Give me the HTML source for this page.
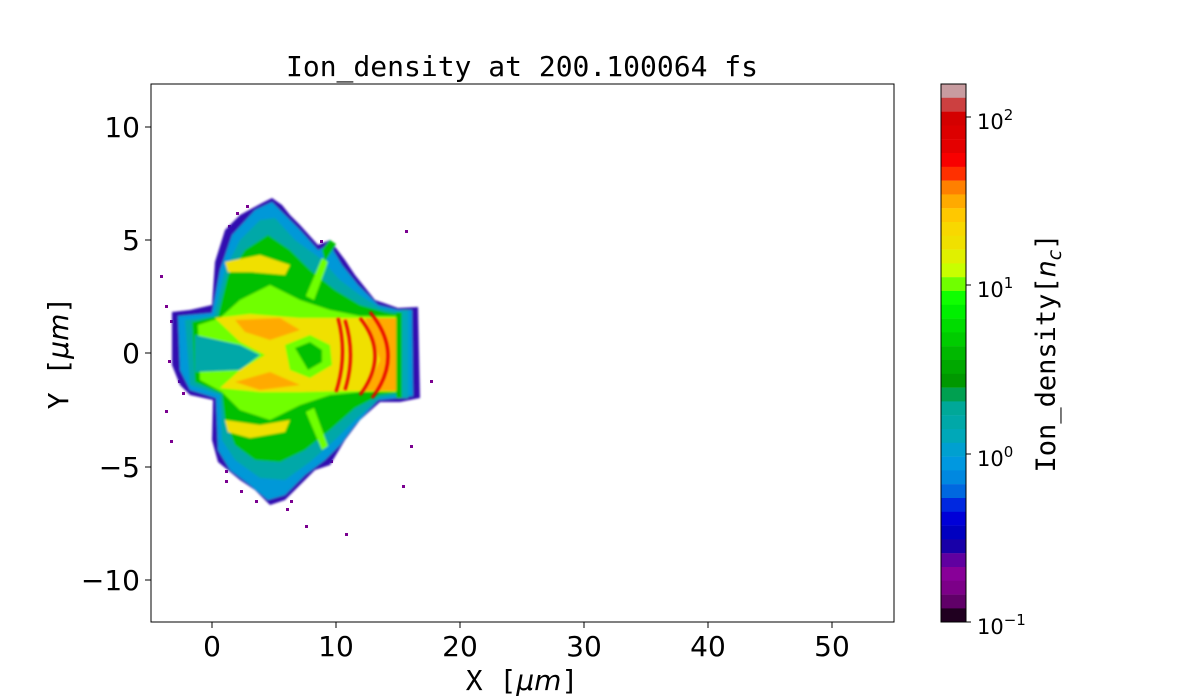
<!DOCTYPE html>
<html><head><meta charset="utf-8"><style>
html,body{margin:0;padding:0;background:#fff;width:1200px;height:700px;overflow:hidden}
text{fill:#000}
</style></head><body>
<svg width="1200" height="700" viewBox="0 0 1200 700" xmlns="http://www.w3.org/2000/svg">
<defs>
<filter id="b1"><feGaussianBlur stdDeviation="1"/></filter>
<clipPath id="cp"><rect x="151" y="84" width="743" height="538"/></clipPath>
</defs>
<text x="522" y="76" font-family="DejaVu Sans Mono, Liberation Mono, monospace" font-size="28" text-anchor="middle">Ion_density at 200.100064 fs</text>

<g clip-path="url(#cp)">
<g fill="#7a0090">
<rect x="160" y="275" width="3" height="3"/><rect x="165" y="305" width="3" height="3"/><rect x="170" y="320" width="3" height="3"/>
<rect x="168" y="360" width="3" height="3"/><rect x="178" y="380" width="3" height="3"/><rect x="165" y="410" width="3" height="3"/>
<rect x="170" y="440" width="3" height="3"/><rect x="225" y="480" width="3" height="3"/><rect x="240" y="490" width="3" height="3"/>
<rect x="290" y="500" width="3" height="3"/><rect x="305" y="525" width="3" height="3"/><rect x="345" y="533" width="3" height="3"/>
<rect x="402" y="485" width="3" height="3"/><rect x="410" y="445" width="3" height="3"/><rect x="405" y="230" width="3" height="3"/>
<rect x="236" y="212" width="3" height="3"/><rect x="320" y="240" width="3" height="3"/><rect x="430" y="380" width="3" height="3"/>
<rect x="225" y="470" width="3" height="3"/><rect x="255" y="500" width="3" height="3"/><rect x="330" y="460" width="3" height="3"/>
<rect x="176" y="330" width="3" height="3"/><rect x="182" y="392" width="3" height="3"/><rect x="228" y="225" width="3" height="3"/>
<rect x="286" y="508" width="3" height="3"/><rect x="246" y="205" width="3" height="3"/>
</g>
<g filter="url(#b1)">
<path fill="#3010b0" d="M172,312 L190,310 L212,305 L215,262 L225,230 L240,215 L262,203 L272,198 L282,205 L290,215 L300,225 L318,245 L330,240 L345,260 L355,275 L375,300 L398,308 L418,307 L420,398 L400,402 L380,402 L360,420 L345,440 L330,465 L315,470 L300,485 L285,500 L270,505 L255,490 L240,480 L218,462 L212,440 L213,400 L190,395 L180,385 L172,365 Z"/>
<path fill="#0098d8" d="M178,316 L212,313 L220,270 L232,235 L255,210 L272,202 L285,215 L300,230 L318,250 L330,245 L342,265 L358,285 L378,305 L398,310 L412,310 L413,396 L398,398 L378,400 L355,425 L340,445 L325,460 L305,475 L285,495 L268,500 L250,485 L230,470 L218,450 L216,398 L190,390 L180,370 Z"/>
<path fill="#00a8a8" d="M185,320 L214,316 L225,270 L240,240 L260,220 L275,218 L295,240 L320,258 L340,280 L360,295 L380,308 L400,312 L400,395 L380,398 L355,420 L335,440 L310,462 L285,480 L260,478 L235,460 L222,440 L220,395 L190,385 Z"/>
<path fill="#00c000" d="M192,322 L218,316 L228,275 L245,250 L268,235 L290,250 L310,270 L335,290 L360,305 L385,312 L398,314 L398,393 L380,395 L355,408 L330,430 L305,450 L280,462 L255,460 L235,445 L225,420 L222,394 L195,382 Z"/>
<path fill="#70ff00" d="M198,325 L220,318 L240,300 L270,285 L300,300 L330,310 L360,316 L398,316 L398,392 L360,392 L330,395 L300,405 L270,420 L240,410 L222,392 L200,380 Z"/>
<path fill="#00a8a8" d="M195,335 L240,345 L260,355 L240,370 L195,372 Z"/>
<path fill="#f0e000" d="M215,318 L250,314 L300,318 L345,318 L398,318 L398,391 L345,391 L300,392 L260,392 L220,388 L240,370 L265,355 L240,342 Z"/>
<path fill="#70ff00" d="M285,345 L310,335 L330,345 L332,365 L310,378 L290,370 Z"/>
<path fill="#00c000" d="M295,348 L310,342 L322,350 L322,362 L308,370 Z"/>
<path fill="#ffaa00" d="M235,320 L280,318 L300,330 L270,340 L245,332 Z"/>
<path fill="#ffaa00" d="M235,382 L270,372 L300,385 L260,390 Z"/>
<path fill="#ffaa00" d="M365,318 L398,318 L398,391 L365,391 L380,360 Z"/>
<path fill="#f0e000" d="M225,262 L260,255 L290,265 L285,275 L250,272 L228,272 Z"/>
<path fill="#f0e000" d="M225,420 L260,425 L290,420 L285,432 L250,438 L228,432 Z"/>
<!-- diagonal streaks upper right wing -->
<path fill="#00c000" d="M322,250 L330,240 L336,244 L325,262 Z"/>
<path fill="#70ff00" d="M306,296 L322,258 L328,262 L314,300 Z"/>
<path fill="#70ff00" d="M306,412 L322,450 L328,446 L314,408 Z"/>
<rect x="396" y="312" width="6" height="86" fill="#00c000"/>
<rect x="402" y="310" width="6" height="88" fill="#00a8b8"/>
</g>
<g fill="none" stroke="#e80000" stroke-width="3" filter="url(#b1)">
<path d="M370,312 Q405,355 372,398"/>
<path d="M360,318 Q390,355 360,395"/>
<path d="M338,318 Q348,355 336,392"/>
<path d="M345,320 Q356,355 345,390"/>
</g>
</g>

<rect x="151" y="84" width="743" height="538" fill="none" stroke="#000" stroke-width="1"/>
<g stroke="#000"><line x1="212" y1="622" x2="212" y2="628"/><line x1="336" y1="622" x2="336" y2="628"/><line x1="460" y1="622" x2="460" y2="628"/><line x1="584" y1="622" x2="584" y2="628"/><line x1="708" y1="622" x2="708" y2="628"/><line x1="832" y1="622" x2="832" y2="628"/>
<line x1="145" y1="127" x2="151" y2="127"/><line x1="145" y1="240" x2="151" y2="240"/><line x1="145" y1="353" x2="151" y2="353"/><line x1="145" y1="467" x2="151" y2="467"/><line x1="145" y1="580" x2="151" y2="580"/></g>
<g font-family="DejaVu Sans, Liberation Sans, sans-serif" font-size="28" text-anchor="middle">
<text x="212" y="656">0</text><text x="336" y="656">10</text><text x="460" y="656">20</text><text x="584" y="656">30</text><text x="708" y="656">40</text><text x="832" y="656">50</text>
</g>
<g font-family="DejaVu Sans, Liberation Sans, sans-serif" font-size="28" text-anchor="end">
<text x="140" y="137">10</text><text x="140" y="250">5</text><text x="140" y="363">0</text><text x="140" y="477">−5</text><text x="140" y="590">−10</text>
</g>
<text x="522" y="690" font-family="DejaVu Sans Mono, Liberation Mono, monospace" font-size="28" text-anchor="middle">X [<tspan font-family="DejaVu Sans, sans-serif" font-style="italic">μm</tspan>]</text>
<text transform="translate(68,353) rotate(-90)" font-family="DejaVu Sans Mono, Liberation Mono, monospace" font-size="28" text-anchor="middle">Y [<tspan font-family="DejaVu Sans, sans-serif" font-style="italic">μm</tspan>]</text>

<g>
<rect x="941" y="84.0" width="25" height="14" fill="#c89ca0"/>
<rect x="941" y="97.8" width="25" height="14" fill="#cc4040"/>
<rect x="941" y="111.6" width="25" height="14" fill="#d40000"/>
<rect x="941" y="125.4" width="25" height="14" fill="#dc0000"/>
<rect x="941" y="139.2" width="25" height="14" fill="#e40000"/>
<rect x="941" y="153.0" width="25" height="14" fill="#f80000"/>
<rect x="941" y="166.8" width="25" height="14" fill="#ff3000"/>
<rect x="941" y="180.6" width="25" height="14" fill="#ff8000"/>
<rect x="941" y="194.4" width="25" height="14" fill="#ffaa00"/>
<rect x="941" y="208.2" width="25" height="14" fill="#ffc800"/>
<rect x="941" y="222.0" width="25" height="14" fill="#f8d800"/>
<rect x="941" y="235.8" width="25" height="14" fill="#f0e000"/>
<rect x="941" y="249.6" width="25" height="14" fill="#e0f000"/>
<rect x="941" y="263.4" width="25" height="14" fill="#c8ff00"/>
<rect x="941" y="277.2" width="25" height="14" fill="#70ff00"/>
<rect x="941" y="291.0" width="25" height="14" fill="#10ff00"/>
<rect x="941" y="304.8" width="25" height="14" fill="#00f000"/>
<rect x="941" y="318.6" width="25" height="14" fill="#00dc00"/>
<rect x="941" y="332.4" width="25" height="14" fill="#00cc00"/>
<rect x="941" y="346.2" width="25" height="14" fill="#00b800"/>
<rect x="941" y="360.0" width="25" height="14" fill="#00a800"/>
<rect x="941" y="373.8" width="25" height="14" fill="#009800"/>
<rect x="941" y="387.6" width="25" height="14" fill="#00a050"/>
<rect x="941" y="401.4" width="25" height="14" fill="#00a898"/>
<rect x="941" y="415.2" width="25" height="14" fill="#00a8a8"/>
<rect x="941" y="429.0" width="25" height="14" fill="#00a8b8"/>
<rect x="941" y="442.8" width="25" height="14" fill="#00a0d0"/>
<rect x="941" y="456.6" width="25" height="14" fill="#0098e0"/>
<rect x="941" y="470.4" width="25" height="14" fill="#0088e0"/>
<rect x="941" y="484.2" width="25" height="14" fill="#0068e0"/>
<rect x="941" y="498.0" width="25" height="14" fill="#0028e0"/>
<rect x="941" y="511.8" width="25" height="14" fill="#0000d8"/>
<rect x="941" y="525.6" width="25" height="14" fill="#0000c0"/>
<rect x="941" y="539.4" width="25" height="14" fill="#1800a8"/>
<rect x="941" y="553.2" width="25" height="14" fill="#6000a0"/>
<rect x="941" y="567.0" width="25" height="14" fill="#880098"/>
<rect x="941" y="580.8" width="25" height="14" fill="#7c0088"/>
<rect x="941" y="594.6" width="25" height="14" fill="#600068"/>
<rect x="941" y="608.4" width="25" height="13.6" fill="#200020"/>
<rect x="941" y="84" width="25" height="538" fill="none" stroke="#000" stroke-width="1"/>
<g stroke="#000"><line x1="966" y1="117" x2="971" y2="117"/><line x1="966" y1="285" x2="971" y2="285"/><line x1="966" y1="454" x2="971" y2="454"/><line x1="966" y1="622" x2="971" y2="622"/></g>
<g font-family="DejaVu Sans, Liberation Sans, sans-serif" font-size="21">
<text x="977" y="129">10<tspan dy="-9" font-size="15">2</tspan></text>
<text x="977" y="297">10<tspan dy="-9" font-size="15">1</tspan></text>
<text x="977" y="466">10<tspan dy="-9" font-size="15">0</tspan></text>
<text x="977" y="634">10<tspan dy="-9" font-size="15">−1</tspan></text>
</g>
<text transform="translate(1055,353) rotate(-90)" font-family="DejaVu Sans Mono, Liberation Mono, monospace" font-size="27" text-anchor="middle">Ion_density[<tspan font-family="DejaVu Sans, sans-serif" font-style="italic">n</tspan><tspan font-family="DejaVu Sans, sans-serif" font-style="italic" font-size="19" dy="6">c</tspan><tspan dy="-6">]</tspan></text>
</g>
</svg>
</body></html>
